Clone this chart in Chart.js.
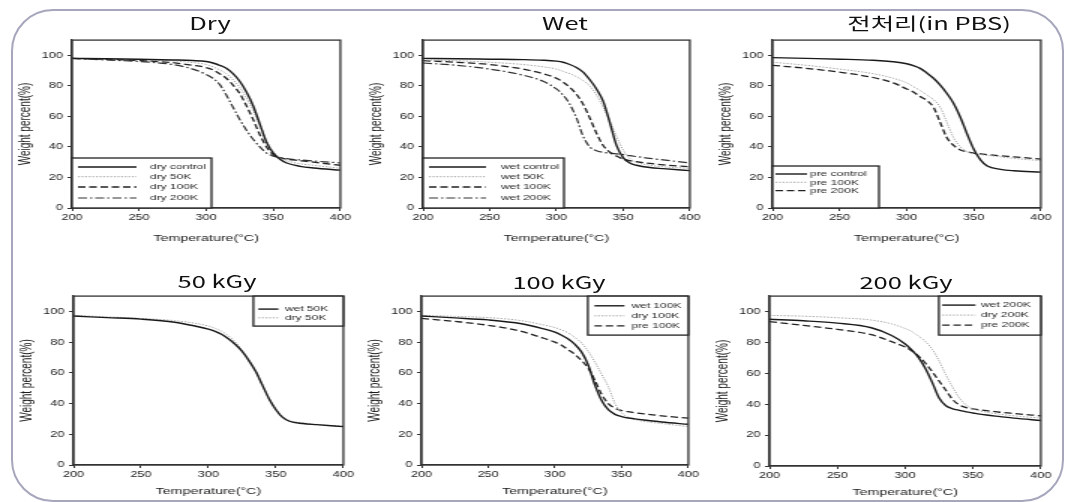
<!DOCTYPE html>
<html>
<head>
<meta charset="utf-8">
<script src="https://cdn.jsdelivr.net/npm/chart.js@4.4.0/dist/chart.umd.min.js"></script>
<style>
  html, body { margin: 0; padding: 0; background: #fff; }
  #page { position: relative; width: 1066px; height: 502px; overflow: hidden; background: #fff; }
  #frame { position: absolute; left: 11px; top: 9px; width: 1053px; height: 493px;
           border: 2px solid #a6a6bc; border-radius: 42px; box-sizing: border-box; }
  #wrap { position: absolute; left: 0; top: 0; width: 711px; height: 502px;
          transform: scaleX(1.5); transform-origin: 0 0; }
  #wrap canvas { position: absolute; }
  .ttl { position: absolute; font-family: "Noto Sans CJK KR", "Noto Sans", sans-serif;
         font-size: 17px; color: #111; white-space: nowrap; transform: translate(-50%, -50%); }
</style>
</head>
<body>
<div id="page">
  <div id="frame"></div>
  <div id="wrap"></div>
</div>
<script>
// temperature grid (°C)
var temps = [200,225,250,275,290,300,305,310,315,320,325,330,335,340,345,350,355,360,370,380,400];

// Dry
var dryControl = [98,97.8,97.5,97,96.6,96,95,93.5,91.5,88,83,76,67,55,43,36,32,29.5,27.3,26.2,24.8];
var dry50K     = [98,97.6,97.2,96.4,95.3,94,92.5,90.5,88,84,79,72,64,54,44,37,33,31,29,28,26];
var dry100K    = [98,97.4,96.6,95.2,93.5,92,90.5,88,85,80.5,75,67,58,48,40,35,33,32,31,30,28];
var dry200K    = [98,97,96,94,91,87.5,85,81,74,66,58,51,45,40,36,34,33,32.3,31.5,30.8,29.5];

// Wet
var wetControl = [98,97.8,97.5,97.2,96.8,96.2,95.5,94,92,89,84,78,70,56,41,33,29.5,28,26.5,25.8,24.5];
var wet50K     = [97,96.5,95.5,94,92.5,91,89.5,88,86,83.5,80,74,66,57,47,38,32.5,30,28,27,26];
var wet100K    = [96.5,95.5,94,91,88,85,82.5,79,74.5,68,59,49,41,36.5,34,32,31,30.3,29.2,28.3,27];
var wet200K    = [95,93.5,91,87,83,78,74,68,59,47,40,37.5,36.5,36,35.5,35,34.3,33.7,32.5,31.5,29.5];

// 전처리 (in PBS)
var preControl = [98.5,98,97.5,96.8,95.8,94.5,93.2,91.5,88.5,85,80.5,75,68.5,59.5,48.5,38.5,31.5,27.5,25.3,24.4,23.5];
var pre100K    = [95.5,93.5,91,88,85,82,79.5,77,74,71,66,56,46,40,37,35.5,35,34.5,33.5,32.5,31];
var pre200K    = [93.5,91.5,89,85.5,82,78,76,73,70.5,66,56,46,41,38,36.8,36,35.5,35,34.2,33.5,32];

// 50 kGy
var kgy50Wet = [97,96,95,93,90.5,88.5,87,85,82,78.5,74,68,61,52,43,36,31,28.5,27,26.3,25];
var kgy50Dry = [97.5,96.5,95.5,94,92.3,90.5,89,87,84,80,74.5,68,61,52,43,36.5,31.5,29,27.5,26.5,25.3];

// 100 kGy
var kgy100Wet = [97,95.8,94.5,92,89,86.5,84.5,82,78.5,73.5,65,52,42,36,33,31.5,30.6,30,29,28,26.5];
var kgy100Dry = [97.5,96.8,96,94,91.5,89.5,88,86,83,79.5,74,67,59,51,40,34,31,29.5,28,27,25];
var kgy100Pre = [95.5,93.5,91,87,83,80,78,75,72,68,63,55,46,40,37,35.5,34.8,34,33,32,30.5];

// 200 kGy
var kgy200Wet = [95,94,92.5,89.5,84.5,79,75,70,63,54,44,39,37,36,35,34.3,33.6,33,32,31,29.5];
var kgy200Dry = [97.5,97,96,94.5,92,89,87,84,80.5,75.5,68,59,51,44,39.5,37,35.7,34.8,33.5,32.5,31];
var kgy200Pre = [93.5,91,88.5,85,80.5,77,74.5,71,66.5,61,55,49,43,39.5,37.8,37,36.3,35.8,34.8,34,32.5];

var xTicks = [200, 250, 300, 350, 400];
var yTicks = [0, 20, 40, 60, 80, 100];

// horizontal stretch of the original picture
var SX = 1.5;

var STYLES = {
    solid:   { borderColor: '#1a1a1a', borderWidth: 1.4, borderDash: [] },
    dotted:  { borderColor: '#a0a0a0', borderWidth: 1, borderDash: [1.2, 1.2] },
    dashed:  { borderColor: '#222', borderWidth: 1.3, borderDash: [5, 2.5] },
    dashdot: { borderColor: '#333', borderWidth: 1.2, borderDash: [6, 2, 1.5, 2] }
};

var panels = [
    { title: 'Dry', tx: 210, ty: 22, L: 72, R: 345, T: 37, B: 208, xpad: 4,
      series: [['dry control', dryControl, 'solid'], ['dry 50K', dry50K, 'dotted'],
               ['dry 100K', dry100K, 'dashed'], ['dry 200K', dry200K, 'dashdot']],
      legend: { pos: 'bl', w: 93, h: 50, rows: [9, 18.7, 29, 40], x1: 4, x2: 43, lx: 52 } },
    { title: 'Wet', tx: 565, ty: 22, L: 423, R: 695, T: 37, B: 208, xpad: 4,
      series: [['wet control', wetControl, 'solid'], ['wet 50K', wet50K, 'dotted'],
               ['wet 100K', wet100K, 'dashed'], ['wet 200K', wet200K, 'dashdot']],
      legend: { pos: 'bl', w: 94, h: 50, rows: [9, 18.7, 29, 40], x1: 4, x2: 42, lx: 52 } },
    { title: '전처리(in PBS)', tx: 929, ty: 22, L: 772, R: 1045, T: 37, B: 208, xpad: 4,
      series: [['pre control', preControl, 'solid'], ['pre 100K', pre100K, 'dotted'],
               ['pre 200K', pre200K, 'dashed']],
      legend: { pos: 'bl', w: 71, h: 42, rows: [8, 16.3, 24.7], x1: 2, x2: 23, lx: 25 } },
    { title: '50 kGy', tx: 217, ty: 280, L: 73, R: 348, T: 293, B: 465, xpad: 8,
      series: [['wet 50K', kgy50Wet, 'solid'], ['dry 50K', kgy50Dry, 'dotted']],
      legend: { pos: 'tr', w: 60, h: 30, rows: [13, 21.7], x1: 3.3, x2: 16.7, lx: 21 } },
    { title: '100 kGy', tx: 559, ty: 281, L: 422, R: 694, T: 293, B: 465, xpad: 8,
      series: [['wet 100K', kgy100Wet, 'solid'], ['dry 100K', kgy100Dry, 'dotted'],
               ['pre 100K', kgy100Pre, 'dashed']],
      legend: { pos: 'tr', w: 67, h: 39, rows: [9.7, 19.7, 29.7], x1: 4.4, x2: 24.4, lx: 29 } },
    { title: '200 kGy', tx: 906, ty: 281, L: 769, R: 1045, T: 293, B: 466, xpad: 8,
      series: [['wet 200K', kgy200Wet, 'solid'], ['dry 200K', kgy200Dry, 'dotted'],
               ['pre 200K', kgy200Pre, 'dashed']],
      legend: { pos: 'tr', w: 68, h: 39, rows: [9, 19, 29], x1: 2.2, x2: 24.4, lx: 28 } }
];

// full box around the plot area
var boxFrame = {
    id: 'boxFrame',
    afterDatasetsDraw: function (chart) {
        var a = chart.chartArea, ctx = chart.ctx;
        ctx.save();
        ctx.strokeStyle = '#333';
        ctx.lineWidth = 1.3;
        ctx.strokeRect(a.left, a.top, a.right - a.left, a.bottom - a.top);
        ctx.restore();
    }
};

// legend box drawn inside the plot area, like the original
var boxLegend = {
    id: 'boxLegend',
    afterDraw: function (chart, args, opts) {
        if (!opts || !opts.w) return;
        var a = chart.chartArea, ctx = chart.ctx;
        var x0 = opts.pos === 'bl' ? a.left : a.right - opts.w;
        var y0 = opts.pos === 'bl' ? a.bottom - opts.h : a.top;
        ctx.save();
        ctx.fillStyle = '#fff';
        ctx.fillRect(x0, y0, opts.w, opts.h);
        ctx.strokeStyle = '#222';
        ctx.lineWidth = 1.3;
        ctx.strokeRect(x0, y0, opts.w, opts.h);
        ctx.font = '8px "Liberation Sans", Arial, sans-serif';
        ctx.textBaseline = 'middle';
        chart.data.datasets.forEach(function (ds, i) {
            var y = y0 + opts.rows[i];
            ctx.strokeStyle = ds.borderColor;
            ctx.lineWidth = ds.borderWidth;
            ctx.setLineDash(ds.borderDash);
            ctx.beginPath();
            ctx.moveTo(x0 + opts.x1, y);
            ctx.lineTo(x0 + opts.x2, y);
            ctx.stroke();
            ctx.setLineDash([]);
            ctx.fillStyle = '#2a2a2a';
            ctx.fillText(ds.label, x0 + opts.lx, y);
        });
        ctx.restore();
    }
};

var axisFont = { family: '"Liberation Sans", Arial, sans-serif', size: 8.5 };
var xTitleFont = { family: '"Liberation Sans", Arial, sans-serif', size: 9.5 };
var yTitleFont = { family: '"Liberation Sans", Arial, sans-serif', size: 10 };

function makePanel(p) {
    var wrap = document.getElementById('wrap');
    var yw = 40, padTop = 5, padRight = 6, xh = 40;
    var left = p.L / SX - yw;
    var width = (p.R - p.L) / SX + yw + padRight;
    var top = p.T - padTop;
    var height = (p.B - p.T) + padTop + xh;

    var canvas = document.createElement('canvas');
    canvas.width = Math.round(width);
    canvas.height = Math.round(height);
    canvas.style.width = Math.round(width) + 'px';
    canvas.style.height = Math.round(height) + 'px';
    canvas.style.left = left + 'px';
    canvas.style.top = top + 'px';
    wrap.appendChild(canvas);

    var t = document.createElement('div');
    t.className = 'ttl';
    t.textContent = p.title;
    t.style.left = (p.tx / SX) + 'px';
    t.style.top = p.ty + 'px';
    wrap.appendChild(t);

    var datasets = p.series.map(function (s) {
        var st = STYLES[s[2]];
        return {
            label: s[0],
            data: temps.map(function (x, i) { return { x: x, y: s[1][i] }; }),
            borderColor: st.borderColor,
            borderWidth: st.borderWidth,
            borderDash: st.borderDash,
            pointRadius: 0,
            fill: false,
            cubicInterpolationMode: 'monotone'
        };
    });

    new Chart(canvas, {
        type: 'line',
        data: { datasets: datasets },
        options: {
            responsive: false,
            animation: false,
            layout: { padding: { top: padTop, right: padRight, left: 0, bottom: 0 } },
            plugins: {
                legend: { display: false },
                tooltip: { enabled: false },
                boxLegend: p.legend
            },
            scales: {
                x: {
                    type: 'linear',
                    min: xTicks[0],
                    max: xTicks[xTicks.length - 1],
                    afterBuildTicks: function (scale) {
                        scale.ticks = xTicks.map(function (v) { return { value: v }; });
                    },
                    ticks: { font: axisFont, color: '#222', padding: 2, maxRotation: 0 },
                    grid: { drawOnChartArea: false, tickLength: 3, color: '#333', lineWidth: 1 },
                    border: { color: '#333', width: 1.3 },
                    title: { display: true, text: 'Temperature(°C)', font: xTitleFont, color: '#1a1a1a',
                             padding: { top: 0, bottom: p.xpad } },
                    afterFit: function (scale) { scale.height = xh; }
                },
                y: {
                    min: 0,
                    max: 110,
                    afterBuildTicks: function (scale) {
                        scale.ticks = yTicks.map(function (v) { return { value: v }; });
                    },
                    ticks: { font: axisFont, color: '#222', padding: 3 },
                    grid: { drawOnChartArea: false, tickLength: 3, color: '#333', lineWidth: 1 },
                    border: { color: '#333', width: 1.3 },
                    title: { display: true, text: 'Weight percent(%)', font: yTitleFont, color: '#1a1a1a',
                             padding: 3 },
                    afterFit: function (scale) { scale.width = yw; }
                }
            }
        },
        plugins: [boxFrame, boxLegend]
    });
}

panels.forEach(makePanel);
</script>
</body>
</html>
